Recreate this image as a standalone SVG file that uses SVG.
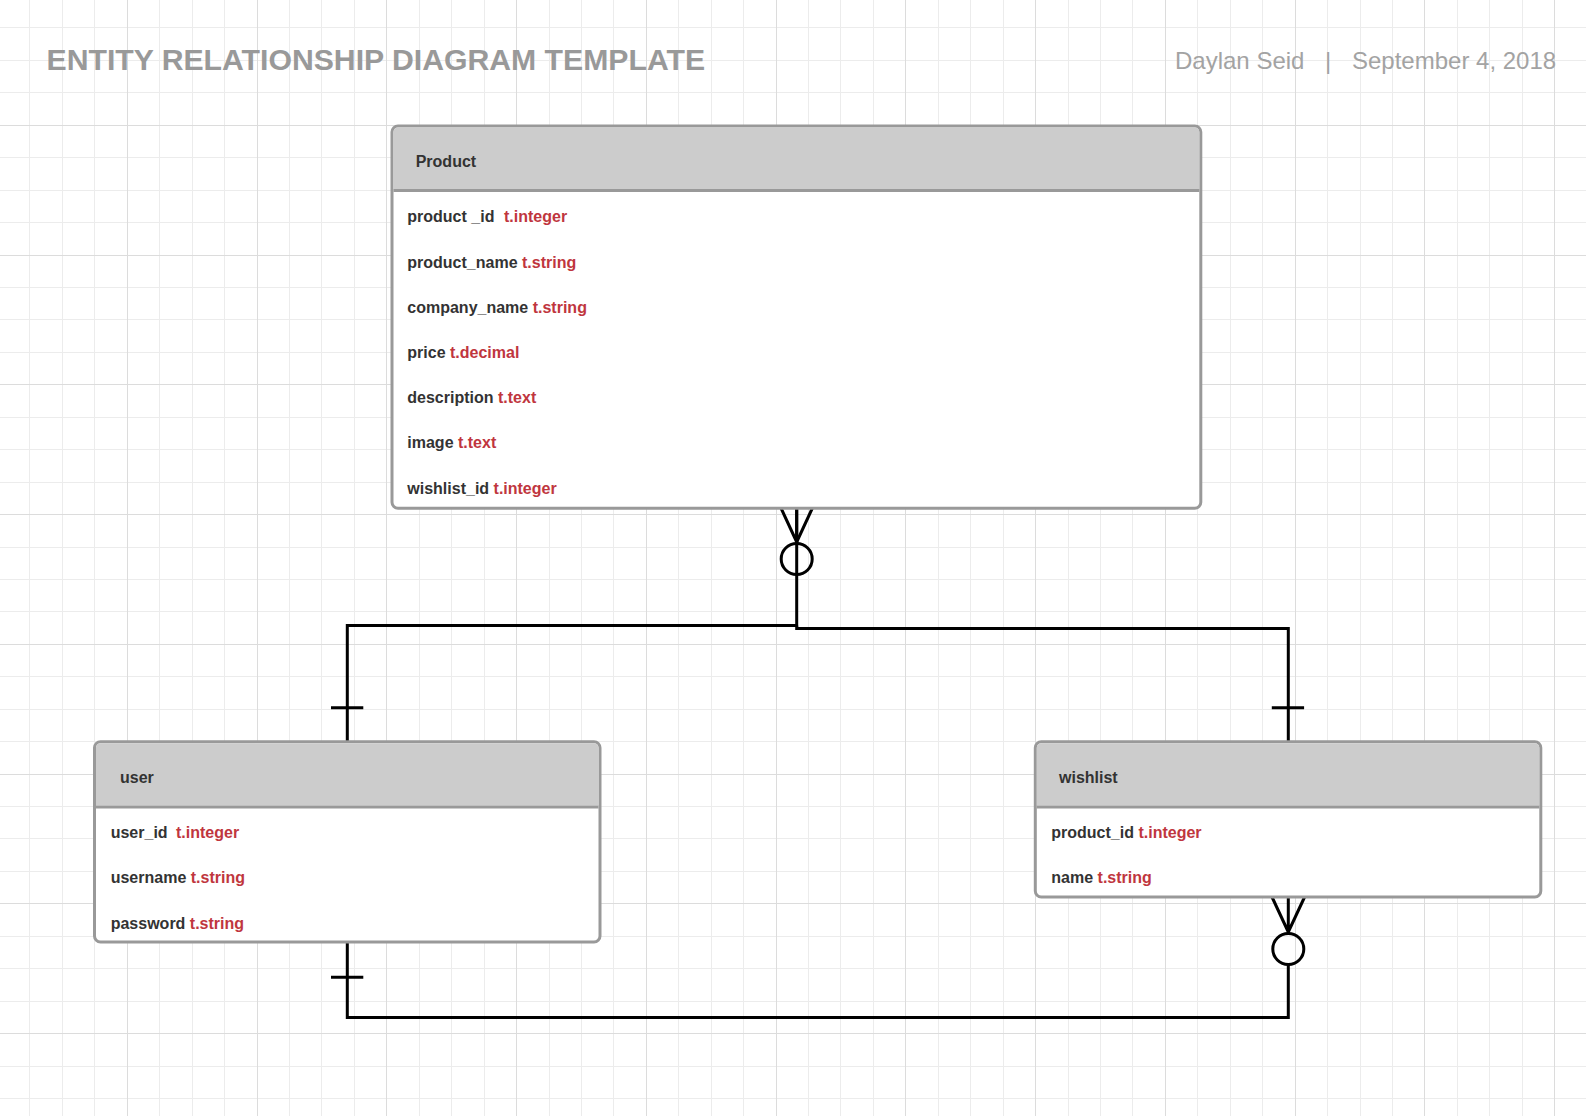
<svg xmlns="http://www.w3.org/2000/svg" width="1586" height="1116" viewBox="0 0 1586 1116">
<style>
.minor{stroke:#ececec;stroke-width:1;fill:none}
.major{stroke:#dcdcdc;stroke-width:1;fill:none}
.box{fill:#ffffff;stroke:#999999;stroke-width:3}
.hdr{fill:#cccccc}
.sep{stroke:#999999;stroke-width:3}
.title{font-family:"Liberation Sans",Arial,sans-serif;font-weight:bold;font-size:30.2px;fill:#999999}
.meta{font-family:"Liberation Sans",Arial,sans-serif;font-size:24px;fill:#a3a3a3}
.hname{font-family:"Liberation Sans",Arial,sans-serif;font-weight:bold;font-size:16px;fill:#333333}
.field{font-family:"Liberation Sans",Arial,sans-serif;font-weight:bold;font-size:16px;fill:#333333}
.type{fill:#c0363e}
.conn{stroke:#000000;stroke-width:3;fill:none}
</style>
<rect x="0" y="0" width="1586" height="1116" fill="#ffffff"/>
<g id="grid">
<path class="minor" d="M29.5 0V1116M62.5 0V1116M94.5 0V1116M159.5 0V1116M192.5 0V1116M224.5 0V1116M289.5 0V1116M321.5 0V1116M354.5 0V1116M419.5 0V1116M451.5 0V1116M484.5 0V1116M549.5 0V1116M581.5 0V1116M613.5 0V1116M678.5 0V1116M711.5 0V1116M743.5 0V1116M808.5 0V1116M840.5 0V1116M873.5 0V1116M938.5 0V1116M970.5 0V1116M1003.5 0V1116M1068.5 0V1116M1100.5 0V1116M1132.5 0V1116M1197.5 0V1116M1230.5 0V1116M1262.5 0V1116M1327.5 0V1116M1360.5 0V1116M1392.5 0V1116M1457.5 0V1116M1489.5 0V1116M1522.5 0V1116M0 27.5H1586M0 60.5H1586M0 92.5H1586M0 157.5H1586M0 190.5H1586M0 222.5H1586M0 287.5H1586M0 319.5H1586M0 352.5H1586M0 417.5H1586M0 449.5H1586M0 482.5H1586M0 547.5H1586M0 579.5H1586M0 611.5H1586M0 676.5H1586M0 709.5H1586M0 741.5H1586M0 806.5H1586M0 838.5H1586M0 871.5H1586M0 936.5H1586M0 968.5H1586M0 1001.5H1586M0 1066.5H1586M0 1098.5H1586"/>
<path class="major" d="M127.5 0V1116M257.5 0V1116M386.5 0V1116M516.5 0V1116M646.5 0V1116M776.5 0V1116M905.5 0V1116M1035.5 0V1116M1165.5 0V1116M1295.5 0V1116M1424.5 0V1116M1554.5 0V1116M0 125.5H1586M0 255.5H1586M0 384.5H1586M0 514.5H1586M0 644.5H1586M0 774.5H1586M0 903.5H1586M0 1033.5H1586"/>
</g>
<g id="header">
<text class="title" x="46.5" y="70">ENTITY RELATIONSHIP DIAGRAM TEMPLATE</text>
<text class="meta" x="1175" y="68.5">Daylan Seid</text>
<text class="meta" x="1328" y="68.5" text-anchor="middle">|</text>
<text class="meta" x="1352" y="68.5">September 4, 2018</text>
</g>
<g id="connectors">
<path class="conn" d="M796.7 508V625.5H347.3V741"/>
<path class="conn" d="M796.7 625.5V628.5H1288.3V741"/>
<path class="conn" d="M781 508L796.7 542M812.4 508L796.7 542"/>
<path class="conn" d="M796.7 508V543.5"/>
<circle class="conn" cx="796.7" cy="559" r="15.5" fill="#ffffff"/>
<path class="conn" d="M331 707.7H363.3M1271.8 707.7H1304.1"/>
<path class="conn" d="M347.3 943V1017.5H1288.3V964.5"/>
<path class="conn" d="M331 977.3H363.3"/>
<path class="conn" d="M1272 897L1288.3 932M1304.6 897L1288.3 932M1288.3 897V933.5"/>
<circle class="conn" cx="1288.3" cy="949" r="15.5" fill="#ffffff"/>
</g>
<g id="product">
<rect class="box" x="392" y="126" width="808.8" height="382.3" rx="6"/>
<path class="hdr" d="M398 127.5H1194.8A4.5 4.5 0 0 1 1199.3 132V189H393.5V132A4.5 4.5 0 0 1 398 127.5Z"/>
<line class="sep" x1="393.5" y1="190.5" x2="1199.3" y2="190.5"/>
<text class="hname" x="415.7" y="167.3">Product</text>
<text class="field" x="407.3" y="222.3">product _id<tspan class="type" x="504">t.integer</tspan></text>
<text class="field" x="407.3" y="267.5">product_name <tspan class="type">t.string</tspan></text>
<text class="field" x="407.3" y="312.7">company_name <tspan class="type">t.string</tspan></text>
<text class="field" x="407.3" y="357.9">price <tspan class="type">t.decimal</tspan></text>
<text class="field" x="407.3" y="403.1">description <tspan class="type">t.text</tspan></text>
<text class="field" x="407.3" y="448.3">image <tspan class="type">t.text</tspan></text>
<text class="field" x="407.3" y="493.5">wishlist_id <tspan class="type">t.integer</tspan></text>
</g>
<g id="user">
<rect class="box" x="94.5" y="741.8" width="505.5" height="200.2" rx="6"/>
<path class="hdr" d="M100.5 743.3H594A4.5 4.5 0 0 1 598.5 747.8V805.5H96V747.8A4.5 4.5 0 0 1 100.5 743.3Z"/>
<line class="sep" x1="96" y1="807" x2="598.5" y2="807"/>
<text class="hname" x="120" y="782.7">user</text>
<text class="field" x="110.7" y="837.7">user_id<tspan class="type" x="176">t.integer</tspan></text>
<text class="field" x="110.7" y="883">username <tspan class="type">t.string</tspan></text>
<text class="field" x="110.7" y="928.5">password <tspan class="type">t.string</tspan></text>
</g>
<g id="wishlist">
<rect class="box" x="1035.3" y="741.8" width="505.5" height="155.2" rx="6"/>
<path class="hdr" d="M1041.3 743.3H1534.8A4.5 4.5 0 0 1 1539.3 747.8V805.5H1036.8V747.8A4.5 4.5 0 0 1 1041.3 743.3Z"/>
<line class="sep" x1="1036.8" y1="807" x2="1539.3" y2="807"/>
<text class="hname" x="1059" y="782.7">wishlist</text>
<text class="field" x="1051.3" y="837.7">product_id <tspan class="type">t.integer</tspan></text>
<text class="field" x="1051.3" y="883">name <tspan class="type">t.string</tspan></text>
</g>
</svg>
